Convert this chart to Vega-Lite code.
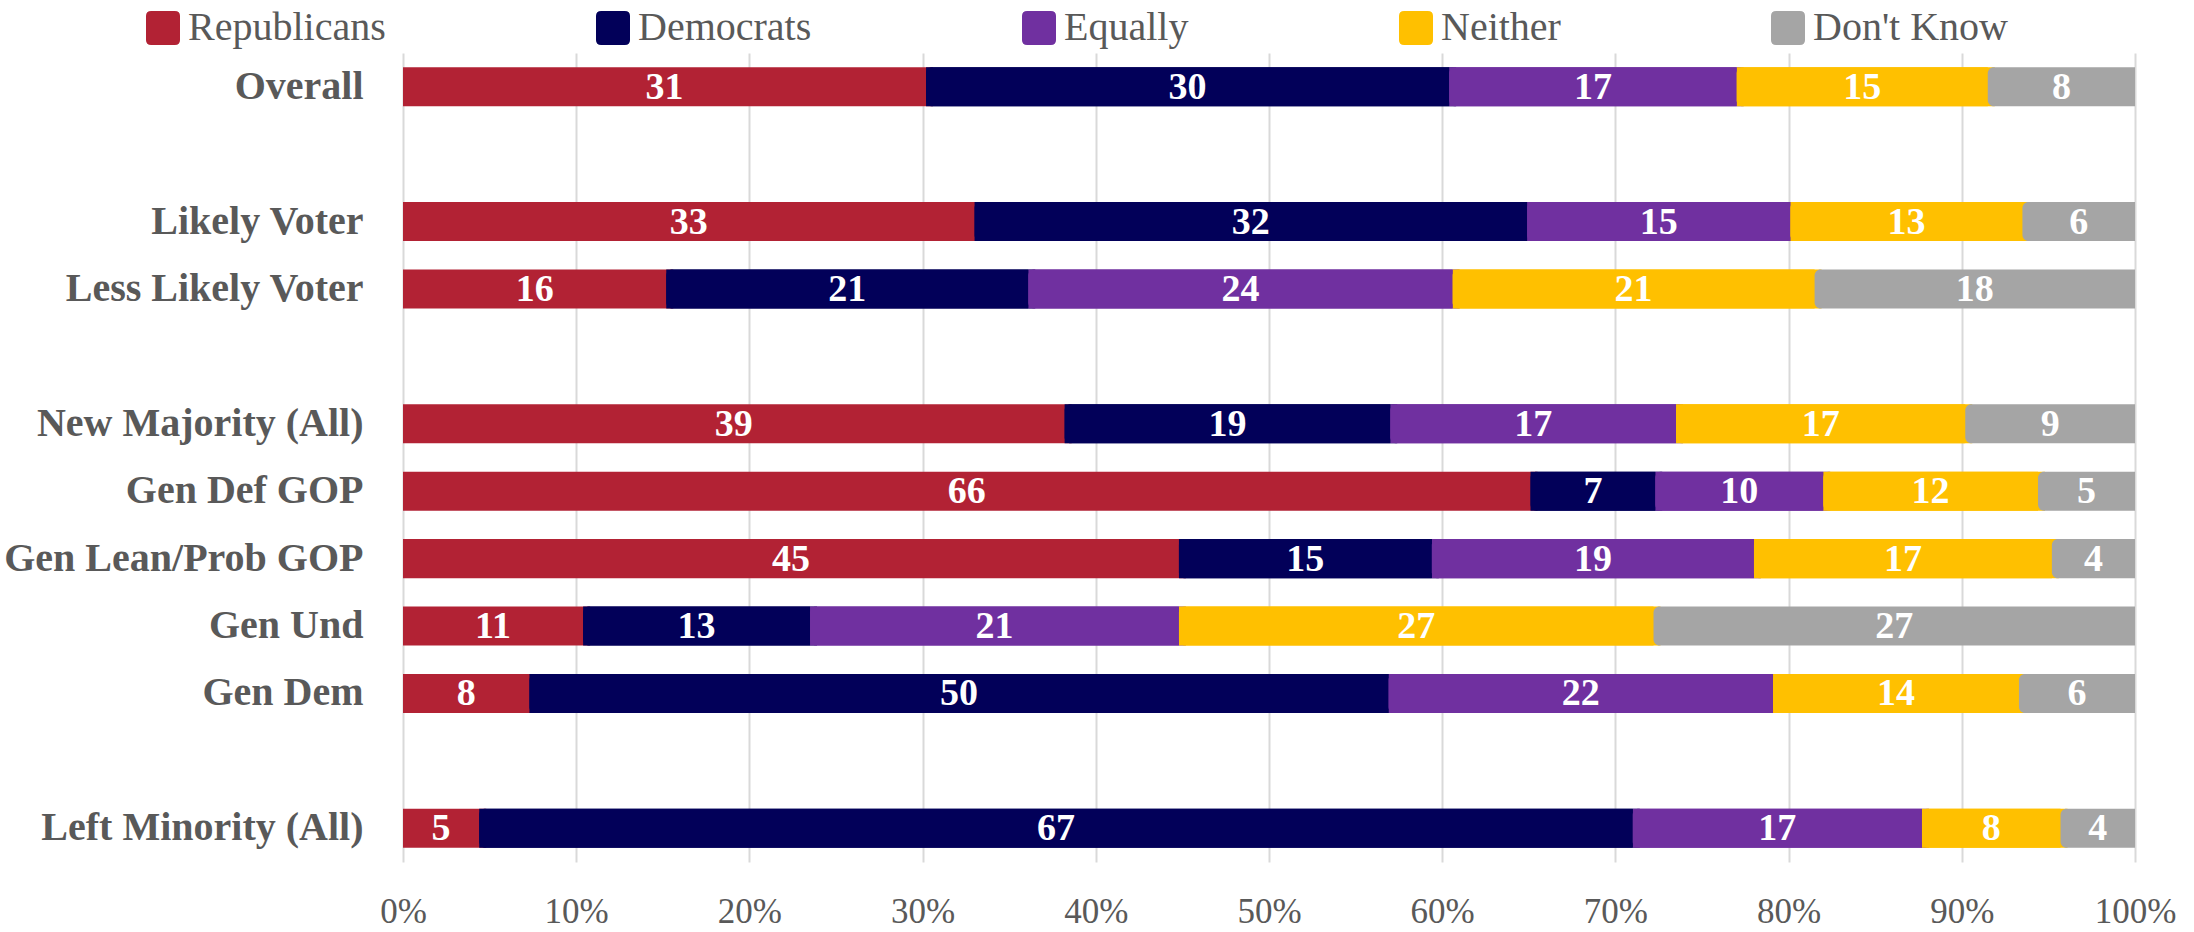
{
  "$schema": "https://vega.github.io/schema/vega-lite/v6.json",
  "autosize": {"type": "none"},
  "width": 1732,
  "height": 809,
  "padding": {"left": 403, "top": 53, "right": 59, "bottom": 70},
  "background": "white",
  "config": {
    "view": {"stroke": null},
    "font": "Liberation Serif"
  },
  "data": {
    "values": [
      {"row": "Overall", "cat": "Republicans", "order": 0, "pct": 30.2, "label": 31},
      {"row": "Overall", "cat": "Democrats", "order": 1, "pct": 30.2, "label": 30},
      {"row": "Overall", "cat": "Equally", "order": 2, "pct": 16.6, "label": 17},
      {"row": "Overall", "cat": "Neither", "order": 3, "pct": 14.5, "label": 15},
      {"row": "Overall", "cat": "Don't Know", "order": 4, "pct": 8.5, "label": 8},
      {"row": "Likely Voter", "cat": "Republicans", "order": 0, "pct": 33.0, "label": 33},
      {"row": "Likely Voter", "cat": "Democrats", "order": 1, "pct": 31.9, "label": 32},
      {"row": "Likely Voter", "cat": "Equally", "order": 2, "pct": 15.2, "label": 15},
      {"row": "Likely Voter", "cat": "Neither", "order": 3, "pct": 13.4, "label": 13},
      {"row": "Likely Voter", "cat": "Don't Know", "order": 4, "pct": 6.5, "label": 6},
      {"row": "Less Likely Voter", "cat": "Republicans", "order": 0, "pct": 15.2, "label": 16},
      {"row": "Less Likely Voter", "cat": "Democrats", "order": 1, "pct": 20.9, "label": 21},
      {"row": "Less Likely Voter", "cat": "Equally", "order": 2, "pct": 24.5, "label": 24},
      {"row": "Less Likely Voter", "cat": "Neither", "order": 3, "pct": 20.9, "label": 21},
      {"row": "Less Likely Voter", "cat": "Don't Know", "order": 4, "pct": 18.5, "label": 18},
      {"row": "New Majority (All)", "cat": "Republicans", "order": 0, "pct": 38.2, "label": 39},
      {"row": "New Majority (All)", "cat": "Democrats", "order": 1, "pct": 18.8, "label": 19},
      {"row": "New Majority (All)", "cat": "Equally", "order": 2, "pct": 16.5, "label": 17},
      {"row": "New Majority (All)", "cat": "Neither", "order": 3, "pct": 16.7, "label": 17},
      {"row": "New Majority (All)", "cat": "Don't Know", "order": 4, "pct": 9.8, "label": 9},
      {"row": "Gen Def GOP", "cat": "Republicans", "order": 0, "pct": 65.1, "label": 66},
      {"row": "Gen Def GOP", "cat": "Democrats", "order": 1, "pct": 7.2, "label": 7},
      {"row": "Gen Def GOP", "cat": "Equally", "order": 2, "pct": 9.7, "label": 10},
      {"row": "Gen Def GOP", "cat": "Neither", "order": 3, "pct": 12.4, "label": 12},
      {"row": "Gen Def GOP", "cat": "Don't Know", "order": 4, "pct": 5.6, "label": 5},
      {"row": "Gen Lean/Prob GOP", "cat": "Republicans", "order": 0, "pct": 44.8, "label": 45},
      {"row": "Gen Lean/Prob GOP", "cat": "Democrats", "order": 1, "pct": 14.6, "label": 15},
      {"row": "Gen Lean/Prob GOP", "cat": "Equally", "order": 2, "pct": 18.6, "label": 19},
      {"row": "Gen Lean/Prob GOP", "cat": "Neither", "order": 3, "pct": 17.2, "label": 17},
      {"row": "Gen Lean/Prob GOP", "cat": "Don't Know", "order": 4, "pct": 4.8, "label": 4},
      {"row": "Gen Und", "cat": "Republicans", "order": 0, "pct": 10.4, "label": 11},
      {"row": "Gen Und", "cat": "Democrats", "order": 1, "pct": 13.1, "label": 13},
      {"row": "Gen Und", "cat": "Equally", "order": 2, "pct": 21.3, "label": 21},
      {"row": "Gen Und", "cat": "Neither", "order": 3, "pct": 27.4, "label": 27},
      {"row": "Gen Und", "cat": "Don't Know", "order": 4, "pct": 27.8, "label": 27},
      {"row": "Gen Dem", "cat": "Republicans", "order": 0, "pct": 7.3, "label": 8},
      {"row": "Gen Dem", "cat": "Democrats", "order": 1, "pct": 49.6, "label": 50},
      {"row": "Gen Dem", "cat": "Equally", "order": 2, "pct": 22.2, "label": 22},
      {"row": "Gen Dem", "cat": "Neither", "order": 3, "pct": 14.2, "label": 14},
      {"row": "Gen Dem", "cat": "Don't Know", "order": 4, "pct": 6.7, "label": 6},
      {"row": "Left Minority (All)", "cat": "Republicans", "order": 0, "pct": 4.4, "label": 5},
      {"row": "Left Minority (All)", "cat": "Democrats", "order": 1, "pct": 66.6, "label": 67},
      {"row": "Left Minority (All)", "cat": "Equally", "order": 2, "pct": 16.7, "label": 17},
      {"row": "Left Minority (All)", "cat": "Neither", "order": 3, "pct": 8.0, "label": 8},
      {"row": "Left Minority (All)", "cat": "Don't Know", "order": 4, "pct": 4.3, "label": 4}
    ]
  },
  "encoding": {
    "y": {
      "field": "row",
      "type": "nominal",
      "sort": ["Overall", "_b1", "Likely Voter", "Less Likely Voter", "_b2", "New Majority (All)", "Gen Def GOP", "Gen Lean/Prob GOP", "Gen Und", "Gen Dem", "_b3", "Left Minority (All)"],
      "scale": {
        "domain": ["Overall", "_b1", "Likely Voter", "Less Likely Voter", "_b2", "New Majority (All)", "Gen Def GOP", "Gen Lean/Prob GOP", "Gen Und", "Gen Dem", "_b3", "Left Minority (All)"],
        "paddingInner": 0.42,
        "paddingOuter": 0.21
      },
      "axis": {
        "title": null,
        "ticks": false,
        "domain": false,
        "labelExpr": "indexof(datum.value, '_b') == 0 ? '' : datum.value",
        "labelFont": "Liberation Serif",
        "labelFontWeight": "bold",
        "labelFontSize": 40,
        "labelColor": "#595959",
        "labelPadding": 40,
        "labelLimit": 600
      }
    }
  },
  "layer": [
    {
      "transform": [
        {"stack": "pct", "groupby": ["row"], "sort": [{"field": "order", "order": "ascending"}], "as": ["x0", "x1"], "offset": "normalize"},
        {"filter": "datum.order < 4"}
      ],
      "mark": {"type": "bar", "x2Offset": 7},
      "encoding": {
        "x": {
          "field": "x0",
          "type": "quantitative",
          "scale": {"domain": [0, 1], "nice": false},
          "axis": {
            "title": null,
            "values": [0, 0.1, 0.2, 0.3, 0.4, 0.5, 0.6, 0.7, 0.8, 0.9, 1],
            "format": ".0%",
            "ticks": false,
            "domain": false,
            "grid": true,
            "gridColor": "#d9d9d9",
            "gridWidth": 2,
            "labelFont": "Liberation Serif",
            "labelFontSize": 35,
            "labelColor": "#595959",
            "labelPadding": 32,
            "labelFlush": false
          }
        },
        "x2": {"field": "x1"},
        "color": {
          "field": "cat",
          "type": "nominal",
          "scale": {
            "domain": ["Republicans", "Democrats", "Equally", "Neither", "Don't Know"],
            "range": ["#B22234", "#020059", "#7030A0", "#FFC000", "#A5A5A5"]
          },
          "legend": {
            "title": null,
            "orient": "none",
            "direction": "horizontal",
            "legendX": -260,
            "legendY": -45,
            "padding": 0,
            "columnPadding": 207,
            "symbolType": "M-0.7,-1H0.7Q1,-1 1,-0.7V0.7Q1,1 0.7,1H-0.7Q-1,1 -1,0.7V-0.7Q-1,-1 -0.7,-1Z",
            "symbolSize": 1156,
            "symbolStrokeWidth": 0,
            "symbolOpacity": 1,
            "labelFont": "Liberation Serif",
            "labelFontSize": 40,
            "labelColor": "#595959",
            "labelOffset": 5,
            "labelLimit": 400
          }
        }
      }
    },
    {
      "transform": [
        {"stack": "pct", "groupby": ["row"], "sort": [{"field": "order", "order": "ascending"}], "as": ["x0", "x1"], "offset": "normalize"},
        {"filter": "datum.order > 0"}
      ],
      "mark": {"type": "bar", "cornerRadiusTopLeft": 6, "cornerRadiusBottomLeft": 6},
      "encoding": {
        "x": {"field": "x0", "type": "quantitative"},
        "x2": {"field": "x1"},
        "color": {"field": "cat", "type": "nominal"}
      }
    },
    {
      "transform": [
        {"fold": ["pct", "pct"], "as": ["k", "v"]},
        {"stack": "v", "groupby": ["row"], "sort": [{"field": "order", "order": "ascending"}], "as": ["s0", "s1"], "offset": "normalize"},
        {"aggregate": [{"op": "min", "field": "s1", "as": "xm"}], "groupby": ["row", "cat", "label", "order"]}
      ],
      "mark": {"type": "text", "color": "white", "font": "Liberation Serif", "fontWeight": "bold", "fontSize": 38, "baseline": "middle", "align": "center", "dy": 1},
      "encoding": {
        "x": {"field": "xm", "type": "quantitative"},
        "text": {"field": "label", "type": "quantitative"}
      }
    }
  ]
}
